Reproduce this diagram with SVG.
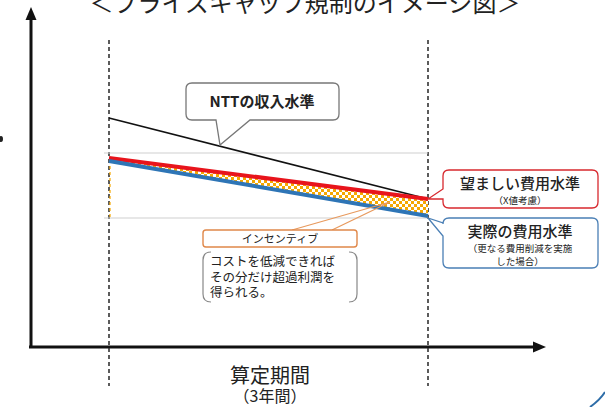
<svg xmlns="http://www.w3.org/2000/svg" width="605" height="407" viewBox="0 0 605 407">
<style>
.jp{font-family:"Noto Sans CJK JP","Noto Sans",sans-serif;fill:#222}
.axis{stroke:#111;stroke-width:3;fill:none}
.dash{stroke:#333;stroke-width:1.6;stroke-dasharray:4,3;fill:none}
.grid{stroke:#cfcfcf;stroke-width:1.2}
</style>
<defs>
<pattern id="chk" width="6" height="6" patternUnits="userSpaceOnUse">
<rect width="6" height="6" fill="#fff"/>
<rect width="3" height="3" fill="#f5a800"/>
<rect x="3" y="3" width="3" height="3" fill="#f5a800"/>
</pattern>
</defs>

<text class="jp" x="305" y="12" font-size="24" text-anchor="middle">＜プライスキャップ規制のイメージ図＞</text>
<ellipse cx="1" cy="139" rx="2" ry="3" fill="#222"/>
<path d="M590,407 Q600,400 605,392" fill="none" stroke="#2e6da8" stroke-width="2"/>

<g id="axes">
<line class="axis" x1="31" y1="348" x2="31" y2="18"/>
<path d="M31,7 L25.5,20 L36.5,20 Z" fill="#111"/>
<line class="axis" x1="29" y1="347" x2="535" y2="347"/>
<path d="M546,347 L533,341.5 L533,352.5 Z" fill="#111"/>
<line class="dash" x1="109" y1="40" x2="109" y2="386"/>
<line class="dash" x1="428" y1="40" x2="428" y2="386"/>
<line class="grid" x1="104" y1="153" x2="428" y2="153"/>
<line class="grid" x1="104" y1="218" x2="428" y2="218"/>
</g>

<g id="connectors">
<polygon points="109,157 428,199 428,217 109,160" fill="url(#chk)"/>
<line x1="110" y1="160" x2="110" y2="218" stroke="#f5a800" stroke-width="1.2" stroke-dasharray="3,3"/>
<line x1="109" y1="118" x2="428" y2="199" stroke="#111" stroke-width="1.6"/>
<line x1="109" y1="158" x2="428" y2="199" stroke="#e8141c" stroke-width="4"/>
<line x1="109" y1="161" x2="428" y2="216" stroke="#2e75b6" stroke-width="4"/>
<polyline points="292,230 390,202 332,230" fill="none" stroke="#e89a5e" stroke-width="1.3"/>
</g>

<g id="ntt-revenue">
<path d="M192,83 H333 Q339,83 339,89 V114 Q339,120 333,120 H250 L220,145 L216,120 H192 Q186,120 186,114 V89 Q186,83 192,83 Z" fill="#fff" stroke="#777" stroke-width="1.3"/>
<text class="jp" x="262" y="107" font-size="15" font-weight="bold" text-anchor="middle">NTTの収入水準</text>
</g>

<g id="desired-cost">
<path d="M449,170 H592 Q598,170 598,176 V202 Q598,208 592,208 H449 Q443,208 443,202 V199 L428,199 L443,189 V176 Q443,170 449,170 Z" fill="#fff" stroke="#d7282e" stroke-width="1.3"/>
<text class="jp" x="520" y="189" font-size="15" font-weight="500" text-anchor="middle">望ましい費用水準</text>
<text class="jp" x="520" y="204" font-size="9.5" text-anchor="middle">（X値考慮）</text>
</g>

<g id="actual-cost">
<path d="M449,218 H592 Q598,218 598,224 V262 Q598,268 592,268 H449 Q443,268 443,262 V236 L428,218 L443,223 V224 Q443,218 449,218 Z" fill="#fff" stroke="#4a7fb5" stroke-width="1.3"/>
<text class="jp" x="520" y="237" font-size="15" font-weight="500" text-anchor="middle">実際の費用水準</text>
<text class="jp" x="520" y="252" font-size="9.5" text-anchor="middle" fill="#444">（更なる費用削減を実施</text>
<text class="jp" x="520" y="265" font-size="9.5" text-anchor="middle" fill="#444">した場合）</text>
</g>

<g id="incentive">
<rect x="203" y="230" width="154" height="17" rx="3" fill="#fff" stroke="#e0884a" stroke-width="1.4"/>
<text class="jp" x="280" y="243" font-size="11" text-anchor="middle">インセンティブ</text>
</g>

<g id="incentive-note">
<path d="M211,252 Q203,252 203,260 V294 Q203,302 211,302" fill="none" stroke="#888" stroke-width="1.2"/>
<path d="M349,252 Q357,252 357,260 V294 Q357,302 349,302" fill="none" stroke="#888" stroke-width="1.2"/>
<text class="jp" x="210" y="266" font-size="12.5">コストを低減できれば</text>
<text class="jp" x="210" y="282" font-size="12.5">その分だけ超過利潤を</text>
<text class="jp" x="210" y="297" font-size="12.5">得られる。</text>
</g>

<g id="period">
<text class="jp" x="270" y="383" font-size="20" text-anchor="middle">算定期間</text>
<text class="jp" x="270" y="402" font-size="16" text-anchor="middle">（3年間）</text>
</g>
</svg>
